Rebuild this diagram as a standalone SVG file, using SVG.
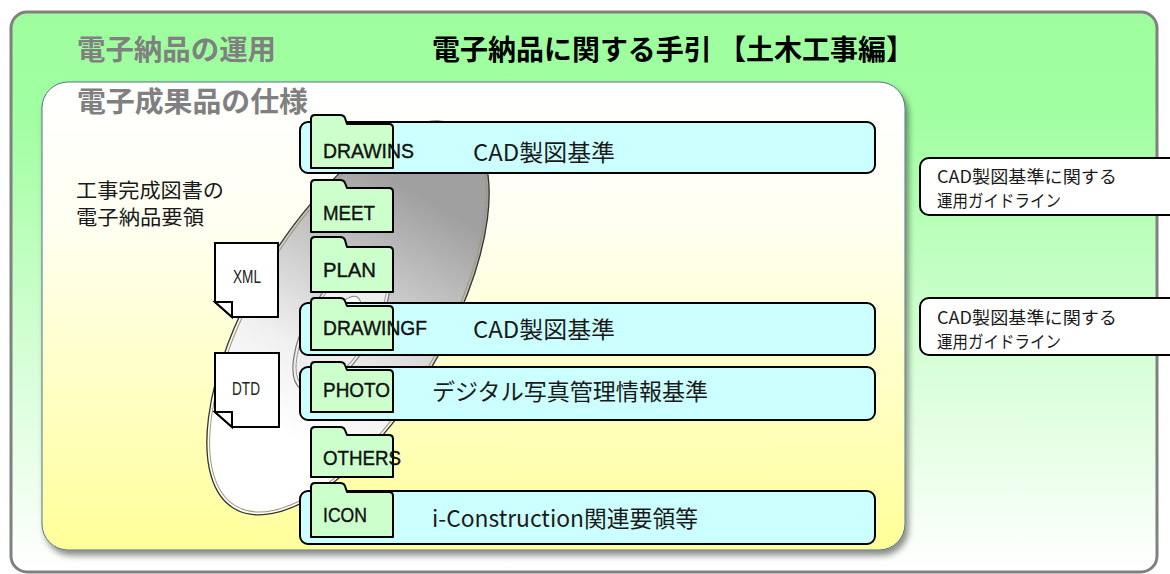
<svg xmlns="http://www.w3.org/2000/svg" width="1170" height="574" viewBox="0 0 1170 574">
  <defs>
    <linearGradient id="outerFill" x1="0" y1="0" x2="0" y2="1">
      <stop offset="0" stop-color="#9EFE9E"/>
      <stop offset="0.18" stop-color="#A0FFA0"/>
      <stop offset="0.6" stop-color="#D4FFD4"/>
      <stop offset="1" stop-color="#FFFFFF"/>
    </linearGradient>
    <linearGradient id="innerFill" x1="0" y1="0" x2="0" y2="1">
      <stop offset="0" stop-color="#FFFFFF"/>
      <stop offset="0.3" stop-color="#FFFFF2"/>
      <stop offset="1" stop-color="#FFFF99"/>
    </linearGradient>
    <linearGradient id="discFill" gradientUnits="userSpaceOnUse" x1="215" y1="0" x2="490" y2="0">
      <stop offset="0" stop-color="#FFFFFF"/>
      <stop offset="0.3" stop-color="#F0F0F0"/>
      <stop offset="1" stop-color="#A0A0A0"/>
    </linearGradient>
    <filter id="softShadow" x="-5%" y="-5%" width="112%" height="115%">
      <feDropShadow dx="3" dy="5" stdDeviation="3" flood-color="#000" flood-opacity="0.45"/>
    </filter>
    <style>
      .title { font-family: "Noto Sans CJK JP", "Noto Sans", sans-serif; font-size: 28px; font-weight: bold; }
      .gray { fill: #808080; }
      .ja { font-family: "Noto Sans CJK JP", "Noto Sans", sans-serif; fill: #1a1a1a; }
      .std { fill: #CCFFFF; stroke: #000; stroke-width: 2; }
      .folder { fill: #CCFFCC; stroke: #000; stroke-width: 2; stroke-linejoin: round; }
      .flabel { font-family: "Liberation Sans", Arial, sans-serif; font-size: 21px; fill: #111; stroke: #111; stroke-width: 0.4; }
      .doc { fill: #FFFFFF; stroke: #000; stroke-width: 2; stroke-linejoin: miter; }
      .dlabel { font-family: "Liberation Sans", Arial, sans-serif; font-size: 19px; fill: #222; }
      .guide { fill: #FFFFFF; stroke: #000; stroke-width: 2; }
    </style>
  </defs>

  <!-- outer frame: operation of electronic delivery -->
  <g id="operation-frame">
    <rect x="11" y="12" width="1146" height="560" rx="16" fill="url(#outerFill)" stroke="#808080" stroke-width="3"/>
    <text class="title gray" x="77" y="60" textLength="199" lengthAdjust="spacingAndGlyphs">電子納品の運用</text>
    <text class="title" x="432" y="60" fill="#000" textLength="482" lengthAdjust="spacingAndGlyphs">電子納品に関する手引 【土木工事編】</text>
  </g>

  <!-- inner panel: deliverable specification -->
  <g id="spec-panel">
    <rect x="42" y="82" width="863" height="468" rx="26" fill="url(#innerFill)" stroke="#5A7090" stroke-width="1" filter="url(#softShadow)"/>
    <text class="title gray" x="77" y="112" textLength="231" lengthAdjust="spacingAndGlyphs">電子成果品の仕様</text>
    <text class="ja" x="76" y="198" font-size="20" textLength="148" lengthAdjust="spacingAndGlyphs">工事完成図書の</text>
    <text class="ja" x="76" y="225" font-size="20" textLength="128" lengthAdjust="spacingAndGlyphs">電子納品要領</text>
  </g>

  <!-- tilted disc with its centre hub -->
  <g id="disc">
    <g transform="rotate(-59.1 348 318)">
      <ellipse cx="348" cy="318" rx="222" ry="97" fill="url(#discFill)" stroke="#333" stroke-width="1.3"/>
      <ellipse cx="348" cy="318" rx="219" ry="94" fill="none" stroke="#A09870" stroke-width="1"/>
    </g>
    <g transform="rotate(-59.1 342 323)">
      <ellipse cx="342" cy="323" rx="78" ry="33" fill="#EEEEEE" stroke="#777" stroke-width="1.2"/>
      <ellipse cx="342" cy="323" rx="74" ry="30" fill="none" stroke="#999" stroke-width="1"/>
      <ellipse cx="342" cy="323" rx="30" ry="13" fill="#FFFFFF" stroke="#888" stroke-width="1"/>
    </g>
  </g>

  <!-- index files -->
  <g id="doc-xml">
    <path class="doc" d="M215 243 H278 V317 H232 L215 302 Z"/>
    <path class="doc" d="M215 302 H232 V317 Z"/>
    <text class="dlabel" x="247" y="283" text-anchor="middle" textLength="28" lengthAdjust="spacingAndGlyphs">XML</text>
  </g>
  <g id="doc-dtd">
    <path class="doc" d="M215 353 H279 V427 H232 L215 412 Z"/>
    <path class="doc" d="M215 412 H232 V427 Z"/>
    <text class="dlabel" x="246" y="395" text-anchor="middle" textLength="28" lengthAdjust="spacingAndGlyphs">DTD</text>
  </g>

  <!-- standard boxes -->
  <g id="std-drawins">
    <rect class="std" x="300" y="122" width="575" height="51" rx="8"/>
    <text class="ja" x="473" y="161" font-size="23" textLength="142" lengthAdjust="spacingAndGlyphs">CAD製図基準</text>
  </g>
  <g id="std-drawingf">
    <rect class="std" x="300" y="303" width="575" height="52" rx="8"/>
    <text class="ja" x="473" y="338" font-size="23" textLength="142" lengthAdjust="spacingAndGlyphs">CAD製図基準</text>
  </g>
  <g id="std-photo">
    <rect class="std" x="300" y="367" width="575" height="53" rx="8"/>
    <text class="ja" x="432" y="400" font-size="23" textLength="276" lengthAdjust="spacingAndGlyphs">デジタル写真管理情報基準</text>
  </g>
  <g id="std-icon">
    <rect class="std" x="300" y="491" width="575" height="53" rx="8"/>
    <text class="ja" x="432" y="527" font-size="23" textLength="266" lengthAdjust="spacingAndGlyphs">i-Construction関連要領等</text>
  </g>

  <!-- folders -->
  <g id="folder-drawins">
    <path class="folder" d="M311 168 V119 Q311 115 315 115 H340 Q344 115 345 118 L347 124 H389 Q393 124 393 128 V168 Z"/>
    <text class="flabel" x="323" y="158" textLength="91" lengthAdjust="spacingAndGlyphs">DRAWINS</text>
  </g>
  <g id="folder-meet">
    <path class="folder" d="M311 232 V184 Q311 180 315 180 H340 Q344 180 345 183 L347 188 H389 Q393 188 393 192 V232 Z"/>
    <text class="flabel" x="323" y="220" textLength="52" lengthAdjust="spacingAndGlyphs">MEET</text>
  </g>
  <g id="folder-plan">
    <path class="folder" d="M311 292 V241 Q311 237 315 237 H340 Q344 237 345 240 L347 247 H389 Q393 247 393 251 V292 Z"/>
    <text class="flabel" x="323" y="277" textLength="53" lengthAdjust="spacingAndGlyphs">PLAN</text>
  </g>
  <g id="folder-drawingf">
    <path class="folder" d="M311 350 V302 Q311 298 315 298 H340 Q344 298 345 301 L347 306 H389 Q393 306 393 310 V350 Z"/>
    <text class="flabel" x="323" y="335" textLength="104" lengthAdjust="spacingAndGlyphs">DRAWINGF</text>
  </g>
  <g id="folder-photo">
    <path class="folder" d="M311 412 V366 Q311 362 315 362 H340 Q344 362 345 365 L347 370 H389 Q393 370 393 374 V412 Z"/>
    <text class="flabel" x="323" y="397" textLength="67" lengthAdjust="spacingAndGlyphs">PHOTO</text>
  </g>
  <g id="folder-others">
    <path class="folder" d="M311 477 V431 Q311 427 315 427 H340 Q344 427 345 430 L347 435 H389 Q393 435 393 439 V477 Z"/>
    <text class="flabel" x="323" y="465" textLength="78" lengthAdjust="spacingAndGlyphs">OTHERS</text>
  </g>
  <g id="folder-icon">
    <path class="folder" d="M311 537 V487 Q311 483 315 483 H340 Q344 483 345 486 L347 492 H389 Q393 492 393 496 V537 Z"/>
    <text class="flabel" x="323" y="522" textLength="44" lengthAdjust="spacingAndGlyphs">ICON</text>
  </g>

  <!-- operation guidelines -->
  <g id="guide-1">
    <rect class="guide" x="920" y="158" width="270" height="57" rx="9"/>
    <text class="ja" x="937" y="183" font-size="17" textLength="180" lengthAdjust="spacingAndGlyphs">CAD製図基準に関する</text>
    <text class="ja" x="937" y="207" font-size="17" textLength="124" lengthAdjust="spacingAndGlyphs">運用ガイドライン</text>
  </g>
  <g id="guide-2">
    <rect class="guide" x="920" y="298" width="270" height="57" rx="9"/>
    <text class="ja" x="937" y="324" font-size="17" textLength="180" lengthAdjust="spacingAndGlyphs">CAD製図基準に関する</text>
    <text class="ja" x="937" y="348" font-size="17" textLength="124" lengthAdjust="spacingAndGlyphs">運用ガイドライン</text>
  </g>
</svg>
